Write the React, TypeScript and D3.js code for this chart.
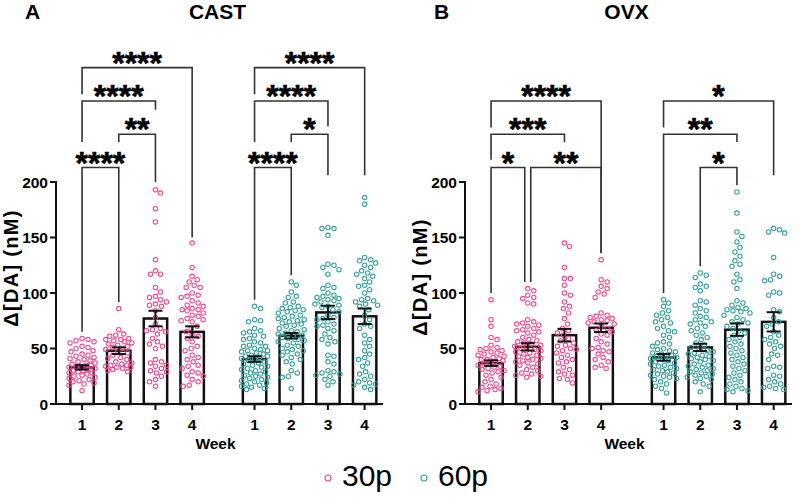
import React from 'react';
import * as d3 from 'd3';

// ---------- labels ----------
const weekLabels = ['1', '2', '3', '4'];
const yTickValues = [0, 50, 100, 150, 200];
const panelLetters = ['A', 'B'];
const panelTitles = ['CAST', 'OVX'];
const seriesNames = ['30p', '60p'];
const seriesColors = ['#f2468c', '#35a09b'];

// ---------- CAST 30p ----------
const cast30W1 = [59,58,57,56,55,52,51,50,48,47,45,44,43,42,41,40,39,38,37,36,35,35,34,33,33,32,31,30,30,29,28,28,27,26,25,24,23,22,21,20,19,18,17,12];
const cast30W2 = [86,67,63,62,61,59,58,58,57,56,55,54,53,52,51,50,49,47,46,44,42,41,40,38,37,36,35,35,34,33,33,32,31,30,29];
const cast30W3 = [193,190,176,164,130,120,117,117,105,101,97,96,94,92,90,89,88,84,78,72,68,67,66,65,63,59,56,54,52,50,40,38,37,35,34,32,30,29,28,25,22,20,16];
const cast30W4 = [145,123,115,112,110,107,105,105,100,98,97,96,93,91,89,88,86,85,85,84,82,80,79,77,76,75,74,70,68,65,62,61,59,56,52,50,48,44,42,40,38,35,34,32,29,28,26,25,22,20,17,16];
const cast30Means = [33, 48, 77, 65];
const cast30Sem = [2, 3, 7, 5];

// ---------- CAST 60p ----------
const cast60W1 = [88,86,76,75,74,68,66,65,64,62,61,59,58,56,55,53,52,52,50,49,48,48,47,46,45,44,43,43,42,41,40,39,38,37,36,35,34,33,32,31,30,29,28,27,26,25,24,23,22,21,20,19,18,17,16,15,14,13];
const cast60W2 = [110,107,101,97,96,92,91,88,87,86,85,84,83,82,80,79,78,77,76,75,74,73,72,71,70,68,67,66,65,64,63,62,61,60,59,58,57,56,55,53,52,50,49,48,47,45,44,42,40,38,36,30,28,25,24,14];
const cast60W3 = [159,158,158,152,126,125,123,121,117,107,105,104,100,98,97,96,95,94,93,92,90,89,88,87,85,83,80,78,77,76,74,72,71,70,68,66,63,60,58,56,54,44,43,38,36,30,29,28,27,26,25,22,20,17];
const cast60W4 = [186,180,132,130,129,127,125,123,120,118,117,115,113,110,107,106,103,100,95,94,93,92,90,89,88,85,80,76,72,70,68,62,58,55,52,48,45,42,40,37,34,29,27,25,22,20,19,18,17,15,13];
const cast60Means = [40.5, 61.5, 82.5, 79];
const cast60Sem = [2.5, 2.5, 6, 7];

// ---------- OVX 30p ----------
const ovx30W1 = [94,76,70,60,58,53,51,50,49,48,47,46,45,44,43,42,41,40,40,39,38,37,36,35,34,33,32,31,30,29,28,26,24,22,20,18,16,15,14,13,12,11];
const ovx30W2 = [104,102,98,96,95,91,90,76,74,73,72,71,70,68,67,66,65,64,62,60,58,57,56,55,54,53,52,51,50,49,48,47,46,45,44,43,42,41,40,39,38,37,36,35,33,31,30,28,27,26,25,24];
const ovx30W3 = [145,142,123,113,113,107,100,98,92,88,86,82,77,72,68,66,64,62,59,57,55,53,52,50,49,48,46,44,42,40,38,37,33,31,29,27,26,23,22,19];
const ovx30W4 = [130,112,110,106,104,101,99,96,82,80,79,78,77,76,75,74,73,72,70,68,66,65,63,62,59,56,54,51,50,48,47,45,42,40,38,35,33,32];
const ovx30Means = [36.8, 51.5, 62, 68.7];
const ovx30Sem = [2.5, 3.3, 5.7, 3.8];

// ---------- OVX 60p ----------
const ovx60W1 = [94,91,88,84,82,80,78,76,74,73,70,68,66,65,62,60,56,55,54,52,50,49,48,47,46,45,44,44,43,42,41,40,39,38,37,36,35,34,33,32,31,30,29,28,27,26,25,24,23,22,20,18,16,14,10];
const ovx60W2 = [118,116,114,108,106,105,102,93,92,89,86,84,82,79,78,76,74,73,72,70,68,66,64,62,60,58,55,53,51,49,48,47,46,45,44,43,42,41,40,39,38,36,35,34,33,32,31,30,29,28,27,26,25,24,23,22,20,18,16,11];
const ovx60W3 = [191,172,155,151,146,141,137,133,129,126,124,117,112,110,104,93,91,89,87,86,85,84,83,82,80,78,76,74,73,72,70,68,66,64,62,60,58,56,54,52,50,48,46,44,42,40,38,36,34,32,30,28,26,24,22,20,18,16,14,13,12,11];
const ovx60W4 = [158,157,155,154,132,117,115,112,111,101,100,98,85,83,78,74,72,70,65,62,60,58,56,54,52,50,45,44,40,34,33,32,26,25,22,20,18,16,15,14,13];
const ovx60Means = [42, 51, 67, 74];
const ovx60Sem = [3, 3.3, 5.6, 8.7];

// brackets: [fromWeekIdx, toWeekIdx, levelValue, leftLegEndValue, rightLegEndValue, label]
type Bracket = [number, number, number, number, number, string];
const cast30Brackets: Bracket[] = [
  [0, 1, 213, 65, 92, '****'],
  [1, 2, 243, 236, 200, '**'],
  [0, 2, 273, 236, 265, '****'],
  [0, 3, 303, 279, 150, '****'],
];
const cast60Brackets: Bracket[] = [
  [0, 1, 213, 94, 116, '****'],
  [1, 2, 243, 236, 206, '*'],
  [0, 2, 273, 236, 250, '****'],
  [0, 3, 303, 279, 206, '****'],
];
const ovx30Brackets: Bracket[] = [
  [0, 1, 213, 100, 110, '*'],
  [1, 3, 213, 110, 136, '**'],
  [0, 2, 243, 220, 236, '***'],
  [0, 3, 273, 249, 136, '****'],
];
const ovx60Brackets: Bracket[] = [
  [1, 2, 213, 124, 197, '*'],
  [0, 2, 243, 100, 236, '**'],
  [0, 3, 273, 249, 206, '*'],
];

type Group = { color: string; weeks: number[][]; means: number[]; sems: number[]; brackets: Bracket[] };
type Panel = { letter: string; title: string; axisX: number; labelCY: number; groups: Group[] };

const panels: Panel[] = [
  {
    letter: panelLetters[0], title: panelTitles[0], axisX: 56, labelCY: 268,
    groups: [
      { color: seriesColors[0], weeks: [cast30W1, cast30W2, cast30W3, cast30W4], means: cast30Means, sems: cast30Sem, brackets: cast30Brackets },
      { color: seriesColors[1], weeks: [cast60W1, cast60W2, cast60W3, cast60W4], means: cast60Means, sems: cast60Sem, brackets: cast60Brackets },
    ],
  },
  {
    letter: panelLetters[1], title: panelTitles[1], axisX: 465, labelCY: 277,
    groups: [
      { color: seriesColors[0], weeks: [ovx30W1, ovx30W2, ovx30W3, ovx30W4], means: ovx30Means, sems: ovx30Sem, brackets: ovx30Brackets },
      { color: seriesColors[1], weeks: [ovx60W1, ovx60W2, ovx60W3, ovx60W4], means: ovx60Means, sems: ovx60Sem, brackets: ovx60Brackets },
    ],
  },
];

const FONT = "'Liberation Sans', Arial, Helvetica, sans-serif";
const Y0 = 404;
const Y200 = 182;
const y = d3.scaleLinear().domain([0, 200]).range([Y0, Y200]);
const GROUP_GAP = 4.7;
const BAR_W = 23.4;
const PT_R = 2.2;

function swarm(values: number[], maxOff: number): { v: number; dx: number }[] {
  const diam = PT_R * 2 + 1.6;
  const pts = values.map((v) => ({ v, py: y(v), dx: 0 }));
  const order = [...pts].sort((a, b) => b.v - a.v);
  const placed: { py: number; dx: number }[] = [];
  const cands: number[] = [0];
  for (let k = 1; k <= maxOff; k++) { cands.push(k, -k); }
  for (const p of order) {
    let best = 0, bestScore = -Infinity;
    for (const c of cands) {
      let minD = Infinity;
      for (const q of placed) {
        const d = Math.hypot(q.dx - c, q.py - p.py);
        if (d < minD) minD = d;
      }
      if (minD >= diam) { best = c; bestScore = Infinity; break; }
      if (minD > bestScore) { bestScore = minD; best = c; }
    }
    p.dx = best;
    placed.push({ py: p.py, dx: best });
  }
  return pts.map((p) => ({ v: p.v, dx: p.dx }));
}

function PanelView({ panel }: { panel: Panel }) {
  const x = d3.scaleLinear().domain([-0.71, 8.2]).range([panel.axisX, panel.axisX + 327]);
  const pos = (g: number, i: number) => x(g * GROUP_GAP + i);
  const axisEnd = x(8.2);
  const midX = (panel.axisX + axisEnd) / 2 - 4;
  return (
    <g>
      <text x={panel.axisX - 31} y={19} fontFamily={FONT} fontWeight="bold" fontSize={21}>{panel.letter}</text>
      <text x={midX + 2} y={19} fontFamily={FONT} fontWeight="bold" fontSize={21} textAnchor="middle">{panel.title}</text>

      {/* brackets */}
      {panel.groups.map((grp, g) => grp.brackets.map((b, bi) => {
        const [a, bb, level, le, re, label] = b;
        const shareLeft = grp.brackets.some((o, oi) => oi !== bi && o[2] === level && o[1] === a);
        const shareRight = grp.brackets.some((o, oi) => oi !== bi && o[2] === level && o[0] === bb);
        const xa = pos(g, a) + (shareLeft ? 3 : 0);
        const xb = pos(g, bb) - (shareRight ? 3 : 0);
        const yl = y(level);
        return (
          <g key={`b${g}-${bi}`}>
            <path d={`M${xa},${y(le)}V${yl}H${xb}V${y(re)}`} fill="none" stroke="#333" strokeWidth={1.6} />
            <text x={(xa + xb) / 2} y={yl + 6} fontFamily={FONT} fontWeight="bold" fontSize={32} textAnchor="middle" stroke="#000" strokeWidth={0.6}>{label}</text>
          </g>
        );
      }))}

      {/* bars */}
      {panel.groups.map((grp, g) => grp.means.map((m, i) => (
        <rect key={`r${g}-${i}`} x={pos(g, i) - BAR_W / 2} y={y(m)} width={BAR_W} height={Y0 - y(m)} fill="#fff" stroke="#111" strokeWidth={2.5} />
      )))}

      {/* points */}
      {panel.groups.map((grp, g) => grp.weeks.map((vals, i) => swarm(vals, 13).map((p, k) => (
        <circle key={`p${g}-${i}-${k}`} cx={pos(g, i) + p.dx} cy={y(p.v)} r={PT_R} fill="none" stroke={grp.color} strokeWidth={1.1} />
      ))))}

      {/* error bars */}
      {panel.groups.map((grp, g) => grp.means.map((m, i) => {
        const cx = pos(g, i);
        const s = grp.sems[i];
        return (
          <g key={`e${g}-${i}`} stroke="#111" strokeWidth={2}>
            <line x1={cx} x2={cx} y1={y(m + s)} y2={y(m - s)} />
            <line x1={cx - 7} x2={cx + 7} y1={y(m + s)} y2={y(m + s)} />
            <line x1={cx - 7} x2={cx + 7} y1={y(m - s)} y2={y(m - s)} />
          </g>
        );
      }))}

      {/* y axis */}
      <line x1={panel.axisX} x2={panel.axisX} y1={Y200 - 1} y2={Y0 + 1} stroke="#111" strokeWidth={2} />
      {yTickValues.map((t) => (
        <g key={`yt${t}`}>
          <line x1={panel.axisX - 6} x2={panel.axisX} y1={y(t)} y2={y(t)} stroke="#111" strokeWidth={2} />
          <text x={panel.axisX - 8} y={y(t) + 5.5} fontFamily={FONT} fontWeight="bold" fontSize={15.5} textAnchor="end">{t}</text>
        </g>
      ))}
      <text transform={`translate(${panel.axisX - 45},${panel.labelCY}) rotate(-90)`} fontFamily={FONT} fontWeight="bold" fontSize={20} letterSpacing={1.3} textAnchor="middle" dy={7}>Δ[DA] (nM)</text>

      {/* x axis */}
      <line x1={panel.axisX - 1} x2={axisEnd} y1={Y0} y2={Y0} stroke="#111" strokeWidth={2} />
      {panel.groups.map((grp, g) => weekLabels.map((w, i) => (
        <g key={`xt${g}-${i}`}>
          <line x1={pos(g, i)} x2={pos(g, i)} y1={Y0} y2={Y0 + 6} stroke="#111" strokeWidth={2} />
          <text x={pos(g, i)} y={430} fontFamily={FONT} fontWeight="bold" fontSize={15.5} textAnchor="middle">{w}</text>
        </g>
      )))}
      <text x={midX} y={449} fontFamily={FONT} fontWeight="bold" fontSize={15.5} textAnchor="middle">Week</text>
    </g>
  );
}

export default function App() {
  return (
    <svg width={800} height={497} viewBox="0 0 800 497" style={{ position: 'absolute', left: 0, top: 0, display: 'block', background: '#fff' }}>
      <rect width={800} height={497} fill="#fff" />
      {panels.map((p) => <PanelView key={p.letter} panel={p} />)}
      {/* legend */}
      <circle cx={328} cy={478} r={3} fill="none" stroke={seriesColors[0]} strokeWidth={1.1} />
      <text x={342} y={486} fontFamily={FONT} fontSize={30}>{seriesNames[0]}</text>
      <circle cx={424} cy={478} r={3} fill="none" stroke={seriesColors[1]} strokeWidth={1.1} />
      <text x={438} y={486} fontFamily={FONT} fontSize={30}>{seriesNames[1]}</text>
    </svg>
  );
}
